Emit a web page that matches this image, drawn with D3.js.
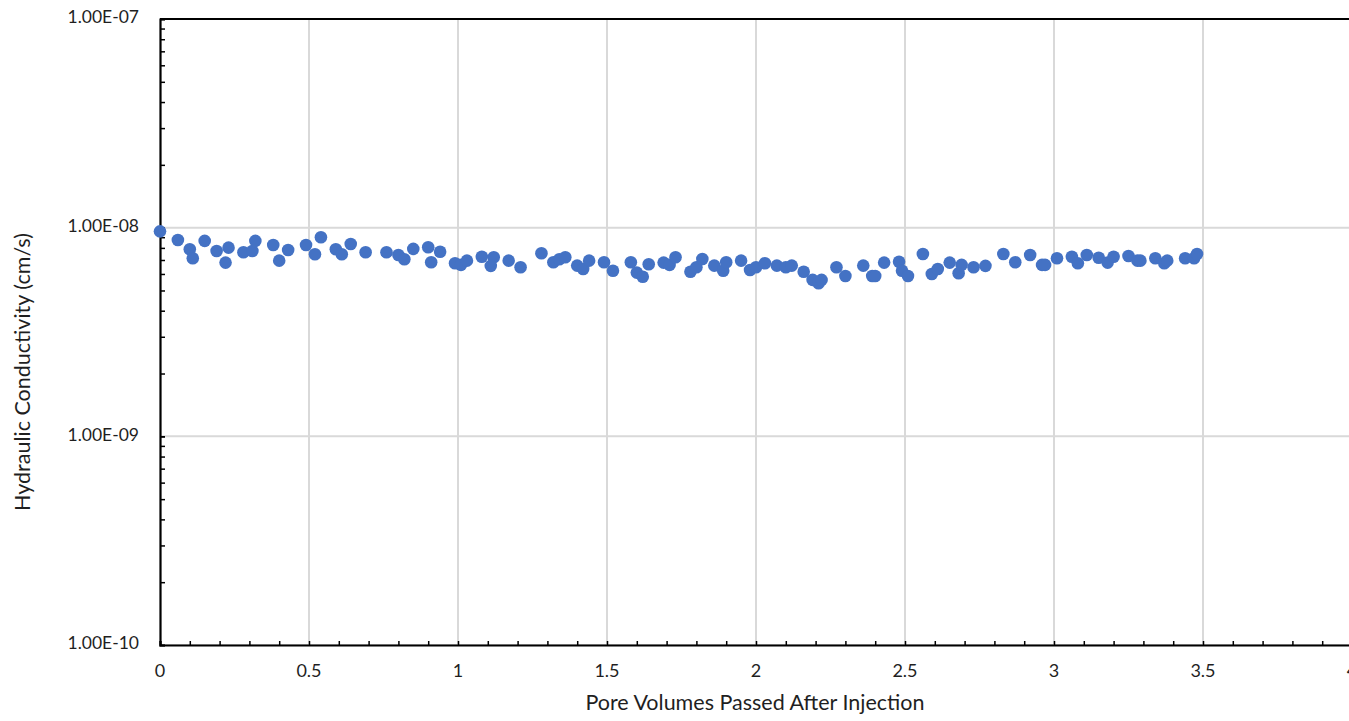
<!DOCTYPE html>
<html>
<head>
<meta charset="utf-8">
<script src="https://cdn.jsdelivr.net/npm/d3@7/dist/d3.min.js"></script>
<style>
  html, body { margin: 0; padding: 0; background: #fff; overflow: hidden; }
  svg { display: block; }
  text { font-family: Lato, "Open Sans", sans-serif; fill: #1f1f1f; }
</style>
</head>
<body>
<svg id="chart" width="1349" height="721"></svg>
<script>
// Pore volumes passed after injection
const poreVolumes = [
  0.00, 0.06, 0.10, 0.11, 0.15, 0.19, 0.22, 0.23, 0.28, 0.31,
  0.32, 0.38, 0.40, 0.43, 0.49, 0.52, 0.54, 0.59, 0.61, 0.64,
  0.69, 0.76, 0.80, 0.82, 0.85, 0.90, 0.91, 0.94, 0.99, 1.01,
  1.03, 1.08, 1.12, 1.11, 1.17, 1.21, 1.28, 1.32, 1.34, 1.36,
  1.40, 1.42, 1.44, 1.49, 1.52, 1.58, 1.60, 1.62, 1.64, 1.69,
  1.71, 1.73, 1.78, 1.80, 1.82, 1.86, 1.89, 1.90, 1.95, 1.98,
  2.00, 2.03, 2.07, 2.10, 2.12, 2.16, 2.19, 2.21, 2.22, 2.27,
  2.30, 2.36, 2.39, 2.40, 2.43, 2.48, 2.49, 2.51, 2.56, 2.59,
  2.61, 2.65, 2.68, 2.69, 2.73, 2.77, 2.83, 2.87, 2.92, 2.96,
  2.97, 3.01, 3.06, 3.08, 3.11, 3.15, 3.18, 3.20, 3.25, 3.28,
  3.29, 3.34, 3.37, 3.38, 3.44, 3.47, 3.48
];

// Hydraulic conductivity, cm/s
const conductivity = [
  9.6e-9, 8.73e-9, 7.88e-9, 7.13e-9, 8.64e-9, 7.73e-9, 6.80e-9, 8.02e-9, 7.62e-9, 7.73e-9,
  8.64e-9, 8.26e-9, 6.95e-9, 7.82e-9, 8.26e-9, 7.46e-9, 8.99e-9, 7.88e-9, 7.46e-9, 8.35e-9,
  7.62e-9, 7.62e-9, 7.40e-9, 7.06e-9, 7.91e-9, 8.06e-9, 6.83e-9, 7.67e-9, 6.75e-9, 6.63e-9,
  6.95e-9, 7.26e-9, 7.21e-9, 6.56e-9, 6.95e-9, 6.46e-9, 7.54e-9, 6.83e-9, 7.06e-9, 7.21e-9,
  6.58e-9, 6.34e-9, 6.95e-9, 6.83e-9, 6.22e-9, 6.83e-9, 6.09e-9, 5.82e-9, 6.68e-9, 6.80e-9,
  6.63e-9, 7.21e-9, 6.15e-9, 6.46e-9, 7.08e-9, 6.58e-9, 6.22e-9, 6.83e-9, 6.95e-9, 6.27e-9,
  6.46e-9, 6.75e-9, 6.58e-9, 6.46e-9, 6.58e-9, 6.15e-9, 5.62e-9, 5.42e-9, 5.62e-9, 6.46e-9,
  5.87e-9, 6.58e-9, 5.87e-9, 5.87e-9, 6.80e-9, 6.87e-9, 6.22e-9, 5.87e-9, 7.48e-9, 6.00e-9,
  6.34e-9, 6.80e-9, 6.05e-9, 6.63e-9, 6.46e-9, 6.56e-9, 7.48e-9, 6.83e-9, 7.40e-9, 6.63e-9,
  6.63e-9, 7.13e-9, 7.26e-9, 6.75e-9, 7.40e-9, 7.18e-9, 6.80e-9, 7.26e-9, 7.32e-9, 6.95e-9,
  6.95e-9, 7.13e-9, 6.75e-9, 6.95e-9, 7.13e-9, 7.13e-9, 7.48e-9
];

const xTickValues = [0, 0.5, 1, 1.5, 2, 2.5, 3, 3.5, 4];
const xTickLabels = ["0", "0.5", "1", "1.5", "2", "2.5", "3", "3.5", "4"];
const yTickValues = [1e-10, 1e-9, 1e-8, 1e-7];
const yTickLabels = ["1.00E-10", "1.00E-09", "1.00E-08", "1.00E-07"];

const xTitle = "Pore Volumes Passed After Injection";
const yTitle = "Hydraulic Conductivity (cm/s)";

const margin = { left: 160, top: 19 };
const plotW = 1192, plotH = 626;

const svg = d3.select("#chart");
const g = svg.append("g").attr("transform", `translate(${margin.left},${margin.top})`);

const x = d3.scaleLinear().domain([0, 4]).range([0, plotW]);
const y = d3.scaleLog().domain([1e-10, 1e-7]).range([plotH, 0]);

// gridlines
g.append("g").selectAll("line.vg")
  .data(xTickValues.filter(v => v > 0))
  .join("line")
  .attr("x1", d => x(d)).attr("x2", d => x(d))
  .attr("y1", 0).attr("y2", plotH)
  .attr("stroke", "#d9d9d9").attr("stroke-width", 2);

g.append("g").selectAll("line.hg")
  .data(yTickValues)
  .join("line")
  .attr("x1", 0).attr("x2", plotW)
  .attr("y1", d => y(d)).attr("y2", d => y(d))
  .attr("stroke", "#d9d9d9").attr("stroke-width", 2);

// top border
g.append("line")
  .attr("x1", 0).attr("x2", plotW).attr("y1", 0).attr("y2", 0)
  .attr("stroke", "#000").attr("stroke-width", 2);

// x axis: minor ticks every 0.1, pointing up into the plot
const xMinor = d3.range(0, 41).map(i => i / 10);
const xAxis = g.append("g").attr("transform", `translate(0,${plotH})`)
  .call(d3.axisBottom(x).tickValues(xMinor).tickSize(-4).tickFormat(""));
xAxis.select(".domain").attr("stroke", "#000").attr("stroke-width", 2.2);
xAxis.selectAll(".tick line").attr("stroke", "#000").attr("stroke-width", 1.5);

g.append("g").selectAll("text")
  .data(xTickValues)
  .join("text")
  .attr("x", d => x(d))
  .attr("y", plotH + 27)
  .attr("text-anchor", "middle")
  .attr("dominant-baseline", "middle")
  .style("font-size", "18px")
  .text((d, i) => xTickLabels[i]);

// y axis: log minor ticks pointing right into the plot
const yMinor = [];
[1e-10, 1e-9, 1e-8].forEach(dec => { for (let k = 1; k <= 10; k++) yMinor.push(dec * k); });
const yAxis = g.append("g")
  .call(d3.axisLeft(y).tickValues(yMinor).tickSize(-5).tickFormat(""));
yAxis.select(".domain").attr("stroke", "#000").attr("stroke-width", 2.2);
yAxis.selectAll(".tick line").attr("stroke", "#000").attr("stroke-width", 1.5);

g.append("g").selectAll("text")
  .data(yTickValues)
  .join("text")
  .attr("x", -21)
  .attr("y", d => y(d))
  .attr("text-anchor", "end")
  .attr("dominant-baseline", "middle")
  .style("font-size", "17.5px")
  .text((d, i) => yTickLabels[i]);

// data points
g.append("g").selectAll("circle")
  .data(poreVolumes.map((pv, i) => ({ pv, k: conductivity[i] })))
  .join("circle")
  .attr("cx", d => x(d.pv))
  .attr("cy", d => y(d.k))
  .attr("r", 6.3)
  .attr("fill", "#4472C4");

// axis titles
svg.append("text")
  .attr("x", 755).attr("y", 705)
  .attr("text-anchor", "middle")
  .attr("dominant-baseline", "middle")
  .style("font-size", "21.5px")
  .text(xTitle);

svg.append("text")
  .attr("transform", "translate(25,372) rotate(-90)")
  .attr("text-anchor", "middle")
  .attr("dominant-baseline", "middle")
  .style("font-size", "21.5px")
  .text(yTitle);
</script>
</body>
</html>
